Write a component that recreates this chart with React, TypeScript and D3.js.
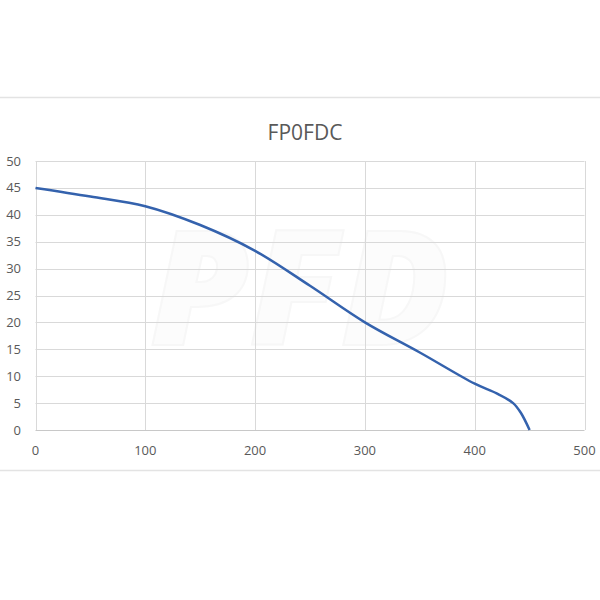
import React from "react";
import * as d3 from "d3";

const title = "FP0FDC";
const flowValues = [0, 50, 100, 150, 200, 250, 300, 350, 400, 420, 435, 442, 450];
const pressureValues = [45, 43.4, 41.6, 38.1, 33.3, 26.8, 20, 14.4, 8.6, 6.8, 5, 3.2, 0];
const xTicks = [0, 100, 200, 300, 400, 500];
const yTicks = [0, 5, 10, 15, 20, 25, 30, 35, 40, 45, 50];

export default function App() {
  const W = 600, H = 600;
  const left = 35.5, right = 584.5, top = 161, bottom = 430;
  const x = d3.scaleLinear().domain([0, 500]).range([left, right]);
  const y = d3.scaleLinear().domain([0, 50]).range([bottom, top]);
  const data = flowValues.map((f, i) => [f, pressureValues[i]] as [number, number]);
  const line = d3.line<[number, number]>().x(d => x(d[0])).y(d => y(d[1])).curve(d3.curveCatmullRom.alpha(0.5));
  const font = "'Open Sans', 'Liberation Sans', sans-serif";
  return (
    <svg width={W} height={H} style={{ position: "absolute", left: 0, top: 0, background: "#fff" }}>
      <rect x={0} y={0} width={W} height={H} fill="#fff" />
      <line x1={0} x2={W} y1={97.5} y2={97.5} stroke="#e3e3e3" strokeWidth={1.5} />
      <line x1={0} x2={W} y1={470.5} y2={470.5} stroke="#e3e3e3" strokeWidth={1.5} />
      <g opacity={0.4}>
        <text x={300} y={345} textAnchor="middle" fontFamily={font} fontSize={160} fontWeight={800} fontStyle="italic" fill="#fafafa" stroke="#ececec" strokeWidth={2}>PFD</text>
      </g>
      <text x={305} y={140} textAnchor="middle" fontFamily={font} fontSize={21} fill="#595959">{title}</text>
      {yTicks.map(t => (
        <line key={"gy" + t} x1={left} x2={right} y1={Math.round(y(t)) + 0.5} y2={Math.round(y(t)) + 0.5} stroke={t === 0 ? "#c8c8c8" : "#d9d9d9"} strokeWidth={1} />
      ))}
      {xTicks.map(t => (
        <line key={"gx" + t} x1={Math.round(x(t)) + 0.5} x2={Math.round(x(t)) + 0.5} y1={top} y2={bottom} stroke="#d9d9d9" strokeWidth={1} />
      ))}
      {yTicks.map(t => (
        <text key={"ty" + t} x={21} y={y(t) + 4.5} textAnchor="end" fontFamily={font} fontSize={13} fill="#595959">{t}</text>
      ))}
      {xTicks.map(t => (
        <text key={"tx" + t} x={x(t)} y={455} textAnchor="middle" fontFamily={font} fontSize={13} fill="#595959">{t}</text>
      ))}
      <path d={line(data) || ""} fill="none" stroke="#3462ad" strokeWidth={2.5} strokeLinejoin="round" />
    </svg>
  );
}
